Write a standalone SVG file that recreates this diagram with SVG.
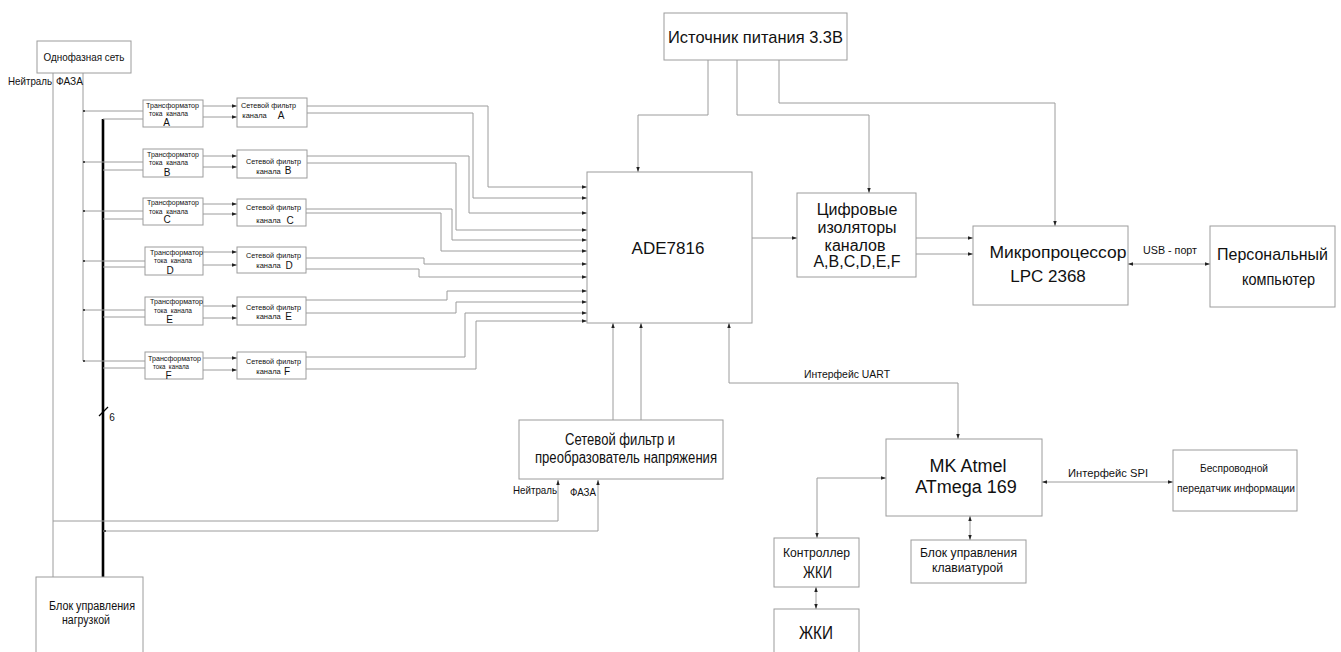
<svg xmlns="http://www.w3.org/2000/svg" width="1341" height="652" viewBox="0 0 1341 652">
<style>
text{font-family:"Liberation Sans",Arial,sans-serif;fill:#111;text-anchor:middle}
rect{fill:#fff;stroke:#9c9c9c;stroke-width:1}
.c path,.c line{fill:none;stroke:#9c9c9c;stroke-width:1}
.c .bus{stroke:#000;stroke-width:2.6}
.a{marker-end:url(#ah)}
.b{marker-start:url(#ah);marker-end:url(#ah)}
.f7{font-size:7.5px}
.f10{font-size:10px}
.f11{font-size:11px}
.f12{font-size:12px}
.f16{font-size:16px}
.f17{font-size:17px}
.f18{font-size:18px}
</style>
<defs>
<marker id="ah" markerWidth="6" markerHeight="5" refX="5" refY="2.5" orient="auto-start-reverse" markerUnits="userSpaceOnUse"><path d="M0,0.8 L5,2.5 L0,4.2 z" fill="#222"/></marker>
</defs>
<g id="connectors" class="c">
<path d="M53,73 V577"/>
<path d="M83,73 V361"/>
<path class="bus" d="M103,119 V577"/>
<line x1="99" y1="416" x2="108" y2="407" style="stroke:#000;stroke-width:1.2"/>
<path d="M53,521 H558 V480" class="a"/>
<path d="M103,531 H598 V480" class="a"/>
<path d="M83,111 H143 M103,119 H143 M83,162 H143 M103,170 H143 M83,211 H143 M103,219 H143 M83,261 H145 M103,267 H145 M83,310 H145 M103,317 H145 M83,361 H145 M103,368 H145"/>
<path class="a" d="M203,106 H237"/><path class="a" d="M203,117 H237"/>
<path class="a" d="M203,156 H237"/><path class="a" d="M203,167 H237"/>
<path class="a" d="M203,204 H237"/><path class="a" d="M203,214 H237"/>
<path class="a" d="M203,252 H237"/><path class="a" d="M203,265 H237"/>
<path class="a" d="M203,306 H237"/><path class="a" d="M203,318 H237"/>
<path class="a" d="M203,358 H237"/><path class="a" d="M203,370 H237"/>
<path class="a" d="M307,106 H488 V187 H587"/>
<path class="a" d="M307,113 H473 V198 H587"/>
<path class="a" d="M307,156 H469 V213 H587"/>
<path class="a" d="M307,163 H456 V230 H587"/>
<path class="a" d="M306,209 H452 V240 H587"/>
<path class="a" d="M306,213 H441 V251 H587"/>
<path class="a" d="M306,258 H424 V264 H587"/>
<path class="a" d="M306,269 H419 V277 H587"/>
<path class="a" d="M306,300 H447 V291 H587"/>
<path class="a" d="M306,313 H456 V302 H587"/>
<path class="a" d="M306,357 H465 V313 H587"/>
<path class="a" d="M306,369 H476 V321 H587"/>
<path class="a" d="M708,60 V115 H638 V172"/>
<path class="a" d="M737,60 V115 H869 V193"/>
<path class="a" d="M779,60 V103 H1055 V226"/>
<path class="a" d="M752,238 H797"/>
<path class="a" d="M916,238 H973"/>
<path class="a" d="M916,254 H973"/>
<path class="b" d="M1128,264 H1210"/>
<path class="a" d="M613,420 V323"/>
<path class="a" d="M641,420 V323"/>
<path class="b" d="M729,323 V383 H958 V439"/>
<path class="b" d="M817,538 V478 H886"/>
<path class="b" d="M1042,482 H1173"/>
<path class="b" d="M970,516 V540"/>
<path class="b" d="M816,587 V609"/>
<circle cx="84" cy="111" r="1" fill="#222"/><circle cx="84" cy="162" r="1" fill="#222"/><circle cx="84" cy="211" r="1" fill="#222"/><circle cx="84" cy="261" r="1" fill="#222"/><circle cx="84" cy="310" r="1" fill="#222"/><circle cx="84" cy="361" r="1" fill="#222"/>
<circle cx="105" cy="531" r="1" fill="#222"/>
</g>
<g id="grid">
<rect x="37" y="41" width="94" height="32"/>
<text x="84" y="61" class="f11" textLength="81" lengthAdjust="spacingAndGlyphs">Однофазная сеть</text>
</g>
<g id="labels-grid">
<text x="30" y="85" class="f11" textLength="44" lengthAdjust="spacingAndGlyphs">Нейтраль</text>
<text x="69.5" y="85" class="f10" textLength="27" lengthAdjust="spacingAndGlyphs">ФАЗА</text>
<text x="112" y="421" class="f10">6</text>
</g>
<g id="ct-a"><rect x="143" y="100" width="60" height="27"/>
<text x="172.5" y="108" class="f7" textLength="53" lengthAdjust="spacingAndGlyphs">Трансформатор</text>
<text x="168.5" y="116" class="f7" xml:space="preserve" textLength="39" lengthAdjust="spacingAndGlyphs">тока  канала</text>
<text x="166.5" y="126" class="f10">A</text></g>
<g id="flt-a"><rect x="237" y="98" width="70" height="29"/>
<text x="268.5" y="108" class="f7" textLength="55" lengthAdjust="spacingAndGlyphs">Сетевой фильтр</text>
<text x="254.5" y="118" class="f7">канала</text>
<text x="281" y="119" class="f10">A</text></g>
<g id="ct-b"><rect x="143" y="149" width="60" height="28"/>
<text x="173" y="157" class="f7" textLength="52" lengthAdjust="spacingAndGlyphs">Трансформатор</text>
<text x="168.5" y="165" class="f7" xml:space="preserve" textLength="39" lengthAdjust="spacingAndGlyphs">тока  канала</text>
<text x="167" y="176" class="f10">B</text></g>
<g id="flt-b"><rect x="237" y="150" width="70" height="28"/>
<text x="273.5" y="164" class="f7" textLength="55" lengthAdjust="spacingAndGlyphs">Сетевой фильтр</text>
<text x="268.5" y="174" class="f7">канала</text>
<text x="288" y="174" class="f10">B</text></g>
<g id="ct-c"><rect x="143" y="198" width="60" height="27"/>
<text x="173" y="205" class="f7" textLength="52" lengthAdjust="spacingAndGlyphs">Трансформатор</text>
<text x="168.5" y="214" class="f7" xml:space="preserve" textLength="39" lengthAdjust="spacingAndGlyphs">тока  канала</text>
<text x="167" y="223" class="f10">C</text></g>
<g id="flt-c"><rect x="237" y="199" width="69" height="27"/>
<text x="273.5" y="210" class="f7" textLength="55" lengthAdjust="spacingAndGlyphs">Сетевой фильтр</text>
<text x="268.5" y="223" class="f7">канала</text>
<text x="290" y="224" class="f10">C</text></g>
<g id="ct-d"><rect x="145" y="247" width="58" height="28"/>
<text x="176.5" y="255" class="f7" textLength="53" lengthAdjust="spacingAndGlyphs">Трансформатор</text>
<text x="173" y="263" class="f7" xml:space="preserve" textLength="38" lengthAdjust="spacingAndGlyphs">тока  канала</text>
<text x="170" y="274" class="f10">D</text></g>
<g id="flt-d"><rect x="237" y="247" width="69" height="26"/>
<text x="273.5" y="258" class="f7" textLength="55" lengthAdjust="spacingAndGlyphs">Сетевой фильтр</text>
<text x="268.5" y="268" class="f7">канала</text>
<text x="289" y="269" class="f10">D</text></g>
<g id="ct-e"><rect x="145" y="297" width="58" height="28"/>
<text x="176.5" y="304" class="f7" textLength="53" lengthAdjust="spacingAndGlyphs">Трансформатор</text>
<text x="173" y="313" class="f7" xml:space="preserve" textLength="38" lengthAdjust="spacingAndGlyphs">тока  канала</text>
<text x="169.5" y="323" class="f10">E</text></g>
<g id="flt-e"><rect x="237" y="297" width="69" height="28"/>
<text x="273.5" y="310" class="f7" textLength="55" lengthAdjust="spacingAndGlyphs">Сетевой фильтр</text>
<text x="268.5" y="319" class="f7">канала</text>
<text x="288.5" y="320" class="f10">E</text></g>
<g id="ct-f"><rect x="145" y="352" width="58" height="27"/>
<text x="174.5" y="361" class="f7" textLength="53" lengthAdjust="spacingAndGlyphs">Трансформатор</text>
<text x="171" y="369" class="f7" xml:space="preserve" textLength="36" lengthAdjust="spacingAndGlyphs">тока  канала</text>
<text x="168.5" y="379" class="f10">F</text></g>
<g id="flt-f"><rect x="237" y="352" width="69" height="27"/>
<text x="273.5" y="364" class="f7" textLength="55" lengthAdjust="spacingAndGlyphs">Сетевой фильтр</text>
<text x="268.5" y="374" class="f7">канала</text>
<text x="287" y="375" class="f10">F</text></g>
<g id="load"><rect x="36" y="577" width="107" height="90"/>
<text x="92" y="610" class="f12" textLength="86" lengthAdjust="spacingAndGlyphs">Блок управления</text>
<text x="86" y="624" class="f12" textLength="48" lengthAdjust="spacingAndGlyphs">нагрузкой</text></g>
<g id="power"><rect x="664" y="13" width="183" height="47"/>
<text x="755.5" y="43" class="f17" textLength="175" lengthAdjust="spacingAndGlyphs">Источник питания 3.3В</text></g>
<g id="ade"><rect x="587" y="172" width="165" height="151"/>
<text x="668" y="254" class="f17">ADE7816</text></g>
<g id="iso"><rect x="797" y="193" width="119" height="84"/>
<text x="857" y="215" class="f16">Цифровые</text>
<text x="857" y="233" class="f16">изоляторы</text>
<text x="855" y="251" class="f16">каналов</text>
<text x="857" y="267" class="f16">A,B,C,D,E,F</text></g>
<g id="mcu"><rect x="973" y="226" width="155" height="79"/>
<text x="1058" y="258" class="f17" textLength="137" lengthAdjust="spacingAndGlyphs">Микропроцессор</text>
<text x="1048" y="282" class="f17">LPC 2368</text></g>
<text x="1170" y="254" class="f10" textLength="54" lengthAdjust="spacingAndGlyphs">USB - порт</text>
<g id="pc"><rect x="1210" y="226" width="125" height="81"/>
<text x="1272.5" y="260" class="f17" textLength="111" lengthAdjust="spacingAndGlyphs">Персональный</text>
<text x="1278.5" y="285" class="f17" textLength="73" lengthAdjust="spacingAndGlyphs">компьютер</text></g>
<g id="conv"><rect x="519" y="420" width="204" height="59"/>
<text x="620" y="445" class="f16" textLength="110" lengthAdjust="spacingAndGlyphs">Сетевой фильтр и</text>
<text x="626" y="463" class="f16" textLength="182" lengthAdjust="spacingAndGlyphs">преобразователь напряжения</text></g>
<text x="535" y="494" class="f11" textLength="44" lengthAdjust="spacingAndGlyphs">Нейтраль</text>
<text x="583" y="496" class="f11" textLength="26" lengthAdjust="spacingAndGlyphs">ФАЗА</text>
<text x="847" y="378" class="f11" textLength="86" lengthAdjust="spacingAndGlyphs">Интерфейс UART</text>
<g id="mk"><rect x="886" y="439" width="156" height="77"/>
<text x="968" y="472" class="f18">MK Atmel</text>
<text x="966" y="493" class="f18">ATmega 169</text></g>
<text x="1108" y="477" class="f11" textLength="80" lengthAdjust="spacingAndGlyphs">Интерфейс SPI</text>
<g id="wireless"><rect x="1173" y="450" width="124" height="61"/>
<text x="1234" y="472" class="f10" textLength="68" lengthAdjust="spacingAndGlyphs">Беспроводной</text>
<text x="1236" y="492" class="f10" textLength="118" lengthAdjust="spacingAndGlyphs">передатчик информации</text></g>
<g id="kbd"><rect x="911" y="540" width="115" height="43"/>
<text x="968.5" y="557" class="f12" textLength="97" lengthAdjust="spacingAndGlyphs">Блок управления</text>
<text x="967.5" y="572" class="f12" textLength="71" lengthAdjust="spacingAndGlyphs">клавиатурой</text></g>
<g id="lcdctl"><rect x="774" y="538" width="85" height="49"/>
<text x="816.5" y="557" class="f12" textLength="67" lengthAdjust="spacingAndGlyphs">Контроллер</text>
<text x="817.5" y="578" class="f16" textLength="29" lengthAdjust="spacingAndGlyphs">ЖКИ</text></g>
<g id="lcd"><rect x="774" y="609" width="85" height="60"/>
<text x="816" y="639" class="f18" textLength="34" lengthAdjust="spacingAndGlyphs">ЖКИ</text></g>
</svg>
